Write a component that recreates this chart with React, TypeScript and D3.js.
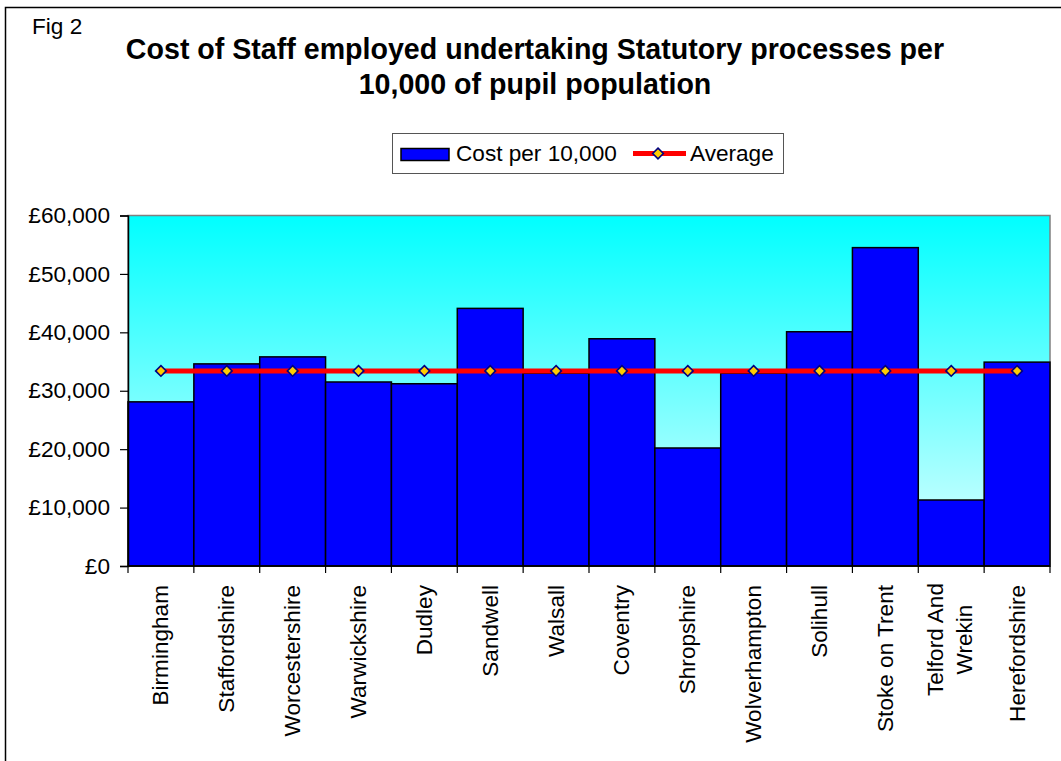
import React, { useEffect, useRef } from 'react';
import * as d3 from 'd3';

const categories: string[] = [
  'Birmingham', 'Staffordshire', 'Worcestershire', 'Warwickshire', 'Dudley', 'Sandwell', 'Walsall',
  'Coventry', 'Shropshire', 'Wolverhampton', 'Solihull', 'Stoke on Trent', 'Telford And\nWrekin', 'Herefordshire',
];
const costPer10000: number[] = [
  28100, 34600, 35800, 31500, 31200, 44100, 33000,
  38900, 20200, 33000, 40100, 54500, 11300, 34900,
];
const averageValue = 33400;
const averageSeries: number[] = categories.map(() => averageValue);
const yTicks: number[] = [0, 10000, 20000, 30000, 40000, 50000, 60000];
const titleLines: string[] = ['Cost of Staff employed undertaking Statutory processes per', '10,000 of pupil population'];
const legendLabels: string[] = ['Cost per 10,000', 'Average'];

const FONT = '"Liberation Sans", Arial, sans-serif';
const FS = 22.6;

export default function App() {
  const ref = useRef<SVGSVGElement>(null);

  useEffect(() => {
    const svg = d3.select(ref.current);
    svg.selectAll('*').remove();
    const W = 1061, H = 761;
    const left = 128, right = 1050, top = 215.5, bottom = 566;

    svg.append('rect').attr('width', W).attr('height', H).attr('fill', '#ffffff');
    // outer chart border
    svg.append('rect').attr('x', 5.5).attr('y', 7.5).attr('width', 1070).attr('height', 800)
      .attr('fill', 'none').attr('stroke', '#000').attr('stroke-width', 1.5);

    svg.append('text').attr('x', 32).attr('y', 34).attr('font-family', FONT).attr('font-size', FS)
      .attr('fill', '#000').text('Fig 2');

    const title = svg.append('text').attr('text-anchor', 'middle').attr('font-family', FONT)
      .attr('font-size', 28.6).attr('font-weight', 'bold').attr('fill', '#000');
    titleLines.forEach((t, i) => {
      title.append('tspan').attr('x', 535).attr('y', 59 + i * 35).text(t);
    });

    const defs = svg.append('defs');
    const grad = defs.append('linearGradient').attr('id', 'bg').attr('x1', 0).attr('y1', 0).attr('x2', 0).attr('y2', 1);
    grad.append('stop').attr('offset', '0%').attr('stop-color', '#00ffff');
    grad.append('stop').attr('offset', '100%').attr('stop-color', '#e2ffff');

    const x = d3.scaleBand<string>().domain(categories).range([left, right]).padding(0);
    const y = d3.scaleLinear().domain([0, 60000]).range([bottom, top]);

    svg.append('rect').attr('x', left).attr('y', top).attr('width', right - left).attr('height', bottom - top)
      .attr('fill', 'url(#bg)').attr('stroke', '#808080').attr('stroke-width', 1.5);

    // bars
    svg.append('g').selectAll('rect').data(categories).join('rect')
      .attr('x', (d) => x(d)!)
      .attr('y', (d, i) => y(costPer10000[i]))
      .attr('width', x.bandwidth())
      .attr('height', (d, i) => bottom - y(costPer10000[i]))
      .attr('fill', '#0000ff').attr('stroke', '#000').attr('stroke-width', 1.5);

    // y axis
    const yAxis = d3.axisLeft(y).tickValues(yTicks).tickSize(8).tickPadding(10)
      .tickFormat((v) => '£' + d3.format(',')(v as number));
    const ga = svg.append('g').attr('transform', `translate(${left},0)`).call(yAxis);
    ga.select('.domain').attr('stroke', '#000').attr('stroke-width', 1.5);
    ga.selectAll('.tick line').attr('stroke', '#000').attr('stroke-width', 1.2);
    ga.selectAll('.tick text').attr('font-family', FONT).attr('font-size', FS).attr('fill', '#000');

    // x axis
    const xg = svg.append('g');
    xg.append('line').attr('x1', left).attr('x2', right).attr('y1', bottom).attr('y2', bottom)
      .attr('stroke', '#000').attr('stroke-width', 1.5);
    const bounds = categories.map((c) => x(c)!).concat([right]);
    xg.selectAll('line.tk').data(bounds).join('line').attr('class', 'tk')
      .attr('x1', (d) => d).attr('x2', (d) => d).attr('y1', bottom).attr('y2', bottom + 7)
      .attr('stroke', '#000').attr('stroke-width', 1.2);

    categories.forEach((c) => {
      const cx = x(c)! + x.bandwidth() / 2;
      const lines = c.split('\n');
      const g = xg.append('g');
      if (lines.length === 1) {
        g.append('text').attr('transform', `translate(${cx + 7.5},585) rotate(-90)`)
          .attr('text-anchor', 'end').attr('font-family', FONT).attr('font-size', FS).attr('fill', '#000')
          .text(c);
      } else {
        const t0 = g.append('text').attr('font-family', FONT).attr('font-size', FS).attr('text-anchor', 'middle').text(lines[0]);
        const w = (t0.node() as SVGTextElement).getComputedTextLength();
        const midY = 583 + w / 2;
        const lh = 29.3;
        lines.forEach((ln, i) => {
          const bx = cx + 6.5 + (i - (lines.length - 1) / 2) * lh;
          const el = i === 0 ? t0 : g.append('text').attr('font-family', FONT).attr('font-size', FS).attr('text-anchor', 'middle').text(ln);
          el.attr('transform', `translate(${bx},${midY}) rotate(-90)`).attr('fill', '#000');
        });
      }
    });

    // average line
    const line = d3.line<number>().x((d, i) => x(categories[i])! + x.bandwidth() / 2).y((d) => y(d));
    svg.append('path').attr('d', line(averageSeries)!).attr('fill', 'none')
      .attr('stroke', '#ff0000').attr('stroke-width', 5);
    const diamond = d3.symbol().type(d3.symbolDiamond2).size(72);
    svg.append('g').selectAll('path').data(averageSeries).join('path')
      .attr('d', diamond()!)
      .attr('transform', (d, i) => `translate(${x(categories[i])! + x.bandwidth() / 2},${y(d)})`)
      .attr('fill', '#ffcc00').attr('stroke', '#000080').attr('stroke-width', 1.6);

    // legend
    const lg = svg.append('g');
    lg.append('rect').attr('x', 392.5).attr('y', 133.5).attr('width', 391).attr('height', 40)
      .attr('fill', '#fff').attr('stroke', '#555').attr('stroke-width', 1);
    lg.append('rect').attr('x', 401).attr('y', 148.5).attr('width', 48).attr('height', 12)
      .attr('fill', '#0000ff').attr('stroke', '#000').attr('stroke-width', 1.5);
    lg.append('text').attr('x', 456).attr('y', 161).attr('font-family', FONT).attr('font-size', FS)
      .attr('fill', '#000').text(legendLabels[0]);
    lg.append('line').attr('x1', 633).attr('x2', 686).attr('y1', 153.5).attr('y2', 153.5)
      .attr('stroke', '#ff0000').attr('stroke-width', 5);
    lg.append('path').attr('d', diamond()!).attr('transform', 'translate(658,153.5)')
      .attr('fill', '#ffcc00').attr('stroke', '#000080').attr('stroke-width', 1.6);
    lg.append('text').attr('x', 690).attr('y', 161).attr('font-family', FONT).attr('font-size', FS)
      .attr('fill', '#000').text(legendLabels[1]);
  }, []);

  return (
    <svg ref={ref} width={1061} height={761}
      style={{ position: 'absolute', left: 0, top: 0, display: 'block' }} />
  );
}
